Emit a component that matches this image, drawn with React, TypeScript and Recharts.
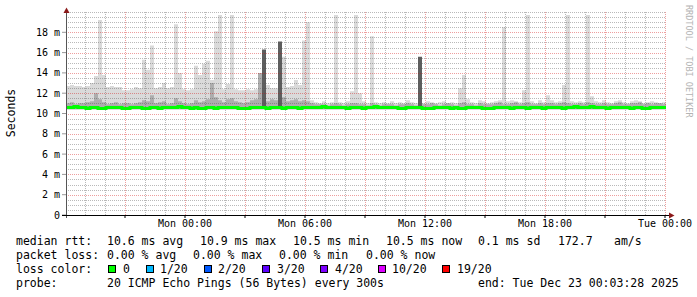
import { ComposedChart, Area, Line, XAxis, YAxis, ReferenceLine } from "recharts";

// time axis: hours relative to Mon 00:00, one sample every 12 min from Sun 18:03
const START_HOUR = -5.95;
const STEP_HOURS = 0.2;

// light smoke: slowest ping per step (ms)
const smokeMax = [
  12.7, 12.8, 12.7, 12.7, 12.6, 12.7, 13.0, 13.7, 19.2, 13.8,
  12.6, 12.7, 12.6, 12.6, 12.3, 12.3, 12.4, 12.6, 12.5, 15.3,
  14.3, 16.7, 12.5, 12.6, 13.0, 12.5, 12.6, 18.8, 14.0, 12.4,
  12.3, 12.4, 14.7, 13.8, 14.9, 15.2, 13.3, 18.1, 19.7, 12.4,
  12.9, 19.7, 12.4, 12.3, 12.3, 12.4, 12.3, 12.4, 14.0, 14.2,
  12.8, 12.5, 12.5, 13.0, 15.6, 12.6, 12.7, 13.3, 12.8, 17.2,
  19.0, 11.3, 11.1, 11.0, 11.2, 11.0, 11.1, 19.7, 11.1, 11.0,
  11.2, 12.2, 19.7, 12.0, 11.2, 11.0, 17.6, 11.1, 11.0, 11.1,
  11.0, 11.2, 11.0, 11.1, 11.0, 11.3, 11.1, 11.0, 11.1, 11.0,
  11.2, 11.1, 11.0, 11.1, 11.2, 11.0, 11.1, 11.0, 12.5, 13.8,
  11.4, 11.1, 11.0, 11.3, 11.2, 11.0, 11.1, 11.2, 11.3, 18.5,
  11.2, 11.3, 11.2, 11.1, 12.3, 19.7, 11.2, 11.0, 11.3, 11.1,
  11.8, 11.3, 11.1, 11.2, 12.8, 19.7, 11.2, 11.1, 11.2, 11.1,
  19.7, 11.7, 11.2, 11.1, 11.3, 11.1, 11.0, 11.2, 11.3, 11.1,
  11.0, 11.2, 11.3, 11.2, 11.0, 11.1, 11.2, 11.1, 11.0, 11.1,
];

// medium smoke: upper part of the dense ping cluster
const smokeMid = [
  11.0, 11.1, 10.9, 11.0, 11.0, 11.1, 11.2, 12.0, 11.4, 11.1,
  10.9, 11.0, 11.1, 10.9, 11.0, 11.0, 10.9, 11.0, 11.1, 11.3,
  11.2, 11.8, 11.0, 11.1, 11.2, 10.9, 11.0, 11.5, 11.2, 11.0,
  10.9, 11.0, 11.3, 11.1, 11.2, 11.4, 13.0, 11.6, 11.3, 11.1,
  11.4, 11.5, 11.2, 11.1, 11.0, 11.1, 11.3, 11.4, 14.0, 11.6,
  11.2, 11.4, 11.3, 13.5, 11.6, 11.2, 11.3, 11.4, 11.2, 11.3,
  11.2, 11.0, 10.9, 10.9, 10.9, 10.8, 10.9, 11.0, 10.9, 10.8,
  10.9, 11.0, 11.0, 10.9, 10.9, 10.8, 11.0, 10.9, 10.8, 10.9,
  10.9, 10.9, 10.8, 10.9, 10.9, 11.0, 10.9, 10.8, 11.9, 10.9,
  10.9, 11.0, 10.9, 10.8, 10.9, 11.0, 10.9, 10.8, 11.0, 11.1,
  10.9, 10.9, 10.8, 11.0, 10.9, 10.9, 10.9, 11.0, 11.1, 10.9,
  10.9, 11.0, 11.1, 10.9, 11.0, 11.1, 10.9, 10.9, 11.0, 10.9,
  11.0, 11.0, 10.9, 11.0, 11.1, 11.0, 10.9, 10.9, 11.0, 10.9,
  11.1, 11.0, 10.9, 10.9, 11.0, 10.9, 10.9, 11.0, 11.1, 10.9,
  10.9, 11.0, 11.0, 11.1, 10.9, 11.0, 10.9, 11.0, 11.0, 10.9,
];

// dark smoke: only stands out where a burst of pings was slow
const smokeDark = [
  10.65, 10.65, 10.65, 10.65, 10.65, 10.65, 10.65, 10.65, 10.65, 10.65,
  10.65, 10.65, 10.65, 10.65, 10.65, 10.65, 10.65, 10.65, 10.65, 10.65,
  10.65, 10.65, 10.65, 10.65, 10.65, 10.65, 10.65, 10.65, 10.65, 10.65,
  10.65, 10.65, 10.65, 10.65, 10.65, 10.65, 10.65, 10.65, 10.65, 10.65,
  10.65, 10.65, 10.65, 10.65, 10.65, 10.65, 10.65, 10.65, 10.65, 16.3,
  10.65, 10.65, 10.65, 17.1, 10.65, 10.65, 10.65, 10.65, 10.65, 10.65,
  10.65, 10.65, 10.65, 10.65, 10.65, 10.65, 10.65, 10.65, 10.65, 10.65,
  10.65, 10.65, 10.65, 10.65, 10.65, 10.65, 10.65, 10.65, 10.65, 10.65,
  10.65, 10.65, 10.65, 10.65, 10.65, 10.65, 10.65, 10.65, 15.6, 10.65,
  10.65, 10.65, 10.65, 10.65, 10.65, 10.65, 10.65, 10.65, 10.65, 10.65,
  10.65, 10.65, 10.65, 10.65, 10.65, 10.65, 10.65, 10.65, 10.65, 10.65,
  10.65, 10.65, 10.65, 10.65, 10.65, 10.65, 10.65, 10.65, 10.65, 10.65,
  10.65, 10.65, 10.65, 10.65, 10.65, 10.65, 10.65, 10.65, 10.65, 10.65,
  10.65, 10.65, 10.65, 10.65, 10.65, 10.65, 10.65, 10.65, 10.65, 10.65,
  10.65, 10.65, 10.65, 10.65, 10.65, 10.65, 10.65, 10.65, 10.65, 10.65,
];

// median rtt (ms)
const median = [
  10.6, 10.6, 10.7, 10.6, 10.6, 10.5, 10.6, 10.6, 10.5, 10.5,
  10.6, 10.6, 10.6, 10.6, 10.5, 10.5, 10.6, 10.6, 10.6, 10.5,
  10.5, 10.6, 10.6, 10.5, 10.6, 10.6, 10.6, 10.6, 10.7, 10.6,
  10.6, 10.5, 10.6, 10.5, 10.5, 10.6, 10.6, 10.5, 10.6, 10.6,
  10.6, 10.6, 10.6, 10.5, 10.5, 10.5, 10.6, 10.6, 10.6, 10.6,
  10.5, 10.6, 10.6, 10.6, 10.5, 10.6, 10.6, 10.6, 10.5, 10.6,
  10.6, 10.6, 10.6, 10.6, 10.7, 10.6, 10.6, 10.6, 10.6, 10.6,
  10.5, 10.6, 10.6, 10.6, 10.5, 10.6, 10.6, 10.7, 10.6, 10.6,
  10.6, 10.6, 10.6, 10.5, 10.5, 10.6, 10.6, 10.6, 10.6, 10.5,
  10.5, 10.5, 10.6, 10.6, 10.6, 10.6, 10.5, 10.6, 10.5, 10.5,
  10.6, 10.6, 10.6, 10.6, 10.5, 10.5, 10.5, 10.6, 10.6, 10.6,
  10.6, 10.5, 10.6, 10.6, 10.6, 10.5, 10.6, 10.6, 10.6, 10.5,
  10.6, 10.6, 10.6, 10.6, 10.5, 10.6, 10.6, 10.7, 10.6, 10.6,
  10.6, 10.7, 10.6, 10.6, 10.6, 10.5, 10.6, 10.6, 10.6, 10.6,
  10.6, 10.5, 10.6, 10.6, 10.5, 10.5, 10.6, 10.6, 10.6, 10.6,
];

const smokeLow = 10.35;
const midLow = 10.45;
const darkLow = 10.55;

const yTicks = [0, 2, 4, 6, 8, 10, 12, 14, 16, 18];
const xTicks = [-3, 0, 3, 6, 9, 12, 15, 18, 21, 24];
const xTickLabels: Record<number, string> = {
  0: "Mon 00:00",
  6: "Mon 06:00",
  12: "Mon 12:00",
  18: "Mon 18:00",
  24: "Tue 00:00",
};

const yMinorGrid = Array.from({ length: 40 }, (_, i) => (i + 1) * 0.5).filter(
  (v) => v === 20 || v % 2 !== 0
);
const yMajorGrid = yTicks.slice(1);
const xHours = Array.from({ length: 30 }, (_, i) => i - 5);
const xMinorGrid = xHours.filter((h) => h % 3 !== 0);
const xMajorGrid = xHours.filter((h) => h % 3 === 0);

const lossColors = [
  { label: "0", color: "#00ff00", box: 108, text: 123 },
  { label: "1/20", color: "#00b8ff", box: 146, text: 160 },
  { label: "2/20", color: "#0059ff", box: 204, text: 218 },
  { label: "3/20", color: "#5e00ff", box: 262, text: 277 },
  { label: "4/20", color: "#7e00ff", box: 320, text: 335 },
  { label: "10/20", color: "#dd00ff", box: 378, text: 392 },
  { label: "19/20", color: "#ff0000", box: 442, text: 457 },
];

const statRows = [
  { y: 245, items: [[16, "median rtt:"], [107, "10.6 ms avg"], [200, "10.9 ms max"], [293, "10.5 ms min"], [386, "10.5 ms now"], [478, "0.1 ms sd"], [558, "172.7"], [614, "am/s"]] },
  { y: 259, items: [[16, "packet loss:"], [107, "0.00 % avg"], [193, "0.00 % max"], [279, "0.00 % min"], [366, "0.00 % now"]] },
  { y: 287, items: [[16, "probe:"], [107, "20 ICMP Echo Pings (56 Bytes) every 300s"], [478, "end: Tue Dec 23 00:03:28 2025"]] },
] as { y: number; items: [number, string][] }[];

const data = Array.from({ length: smokeMax.length + 1 }, (_, i) => {
  const k = Math.min(i, smokeMax.length - 1);
  return {
    t: START_HOUR + i * STEP_HOURS,
    smoke: [smokeLow, smokeMax[k]],
    mid: [midLow, smokeMid[k]],
    dark: [darkLow, smokeDark[k]],
    median: median[k],
  };
});

const MONO = "'DejaVu Sans Mono', monospace";
const GRID = "rgba(80,80,80,0.4)";
const MGRID = "rgba(210,0,0,0.38)";

// dotted grid line snapped to the pixel grid, like rrdtool draws it
const dotted = (color: string) => (props: any) => {
  const snap = (v: number) => Math.round(v) + 0.5;
  const { x1, y1, x2, y2 } = props;
  if (x1 == null || y1 == null) return <g />;
  return (
    <line
      x1={x1 === x2 ? snap(x1) : x1}
      x2={x1 === x2 ? snap(x2) : x2}
      y1={y1 === y2 ? snap(y1) : y1}
      y2={y1 === y2 ? snap(y2) : y2}
      stroke={color}
      strokeWidth={1}
      strokeDasharray="1 1"
    />
  );
};
const minorShape = dotted(GRID);
const majorShape = dotted(MGRID);

export default function App() {
  return (
    <div style={{ position: "absolute", left: 0, top: 0, width: 697, height: 297, background: "#fff" }}>
      <ComposedChart
        width={697}
        height={297}
        data={data}
        margin={{ top: 12, right: 31, bottom: 62, left: 0 }}
      >
        <XAxis
          dataKey="t"
          type="number"
          domain={[START_HOUR, START_HOUR + 30]}
          ticks={xTicks}
          interval={0}
          height={20}
          axisLine={false}
          tickSize={3}
          tickMargin={2}
          tickLine={{ stroke: "#000" }}
          tickFormatter={(v: number) => xTickLabels[v] ?? ""}
          tick={{ fontFamily: MONO, fontSize: 10, fill: "#000" }}
        />
        <YAxis
          type="number"
          domain={[0, 20]}
          ticks={yTicks}
          interval={0}
          width={66}
          axisLine={false}
          tickSize={4}
          tickMargin={2}
          tickLine={{ stroke: "#999" }}
          tickFormatter={(v: number) => (v === 0 ? "0" : `${v} m`)}
          tick={{ fontFamily: MONO, fontSize: 10, fill: "#000" }}
        />
        <Area dataKey="smoke" type="stepAfter" stroke="none" fill="#dadada" fillOpacity={1} isAnimationActive={false} />
        <Area dataKey="mid" type="stepAfter" stroke="none" fill="#adadad" fillOpacity={1} isAnimationActive={false} />
        <Area dataKey="dark" type="stepAfter" stroke="none" fill="#5e5e5e" fillOpacity={1} isAnimationActive={false} />
        {yMinorGrid.map((v) => (
          <ReferenceLine key={`ym${v}`} y={v} shape={minorShape} />
        ))}
        {xMinorGrid.map((v) => (
          <ReferenceLine key={`xm${v}`} x={v} shape={minorShape} />
        ))}
        {yMajorGrid.map((v) => (
          <ReferenceLine key={`yM${v}`} y={v} shape={majorShape} />
        ))}
        {xMajorGrid.map((v) => (
          <ReferenceLine key={`xM${v}`} x={v} shape={majorShape} />
        ))}
        <Line dataKey="median" type="stepAfter" stroke="#00ff00" strokeWidth={3} dot={false} isAnimationActive={false} />
      </ComposedChart>
      <svg width={697} height={297} style={{ position: "absolute", left: 0, top: 0, pointerEvents: "none" }}>
        <line x1={66.5} y1={218} x2={66.5} y2={12} stroke="#555" strokeWidth={1} />
        <polygon points="63.5,13 69.5,13 66.5,7.5" fill="#8b1a1a" />
        <line x1={62} y1={215.5} x2={670} y2={215.5} stroke="#000" strokeWidth={1} />
        <polygon points="669,212.5 669,218.5 674.5,215.5" fill="#8b1a1a" />
        <text x={15} y={113} transform="rotate(-90 15 113)" textAnchor="middle" fontFamily={MONO} fontSize={11.5} fill="#000">
          Seconds
        </text>
        <text x={685.5} y={5} transform="rotate(90 685.5 5)" fontFamily={MONO} fontSize={8.5} fill="#b4b4b4">
          RRDTOOL / TOBI OETIKER
        </text>
        {statRows.map((row) =>
          row.items.map(([x, s]) => (
            <text key={`${row.y}-${x}`} x={x} y={row.y} fontFamily={MONO} fontSize={11.5} fill="#000" style={{ whiteSpace: "pre" }}>
              {s}
            </text>
          ))
        )}
        <text x={16} y={273} fontFamily={MONO} fontSize={11.5} fill="#000">
          loss color:
        </text>
        {lossColors.map((c) => (
          <g key={c.label}>
            <rect x={c.box + 0.5} y={265.5} width={7} height={7} fill={c.color} stroke="#000" strokeWidth={1} />
            <text x={c.text} y={273} fontFamily={MONO} fontSize={11.5} fill="#000">
              {c.label}
            </text>
          </g>
        ))}
      </svg>
    </div>
  );
}
